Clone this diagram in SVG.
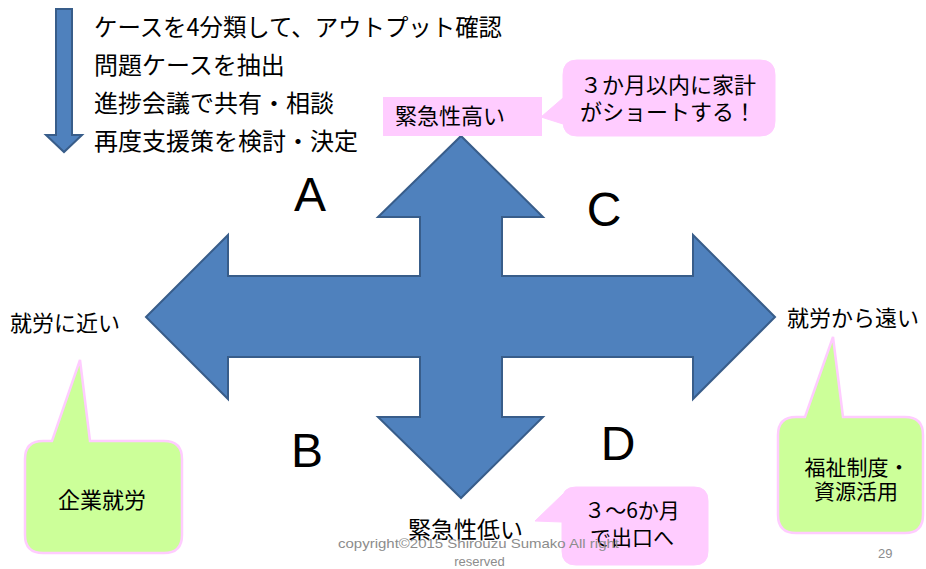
<svg xmlns="http://www.w3.org/2000/svg" width="926" height="569" viewBox="0 0 926 569">
<style>
.jp{font-family:"Noto Sans CJK JP","Noto Sans",sans-serif;fill:#000;}
.big{font-size:24px;}
.mid{font-size:22px;}
.sm{font-size:21px;}
.abc{font-family:"Liberation Sans",Arial,sans-serif;font-size:48px;fill:#000;text-anchor:middle;}
.arrow{fill:#4F81BD;stroke:#385D8A;stroke-width:2;stroke-linejoin:miter;}
.pink{fill:#FFCCFF;}
.pinkc{fill:#FFCCFF;stroke:#FFCCFF;stroke-width:1;}
.green{fill:#CCFF99;stroke:#FFCCFF;stroke-width:2.5;}
.foot{font-family:"Liberation Sans",Arial,sans-serif;font-size:13px;fill:#8C8C8C;}
.c{text-anchor:middle;}
</style>
<rect width="926" height="569" fill="#fff"/>

<g id="connectors">
  <path id="flow-arrow" class="arrow" d="M56,9 L72,9 L72,135 L82,135 L64,152 L46,135 L56,135 Z"/>
</g>

<g id="steps">
  <text class="jp big" x="94" y="35.5" textLength="408" lengthAdjust="spacingAndGlyphs">ケースを4分類して、アウトプット確認</text>
  <text class="jp big" x="94" y="73.8">問題ケースを抽出</text>
  <text class="jp big" x="94" y="112">進捗会議で共有・相談</text>
  <text class="jp big" x="94" y="150.3">再度支援策を検討・決定</text>
</g>

<g id="cross">
  <path class="arrow" d="M146,317 L228,235 L228,276 L420,276 L420,217 L378,217 L461,136 L543,217 L502,217 L502,276 L693,276 L693,235 L775,317 L693,399 L693,357 L502,357 L502,417 L543,417 L461,498 L378,417 L420,417 L420,357 L228,357 L228,399 Z"/>
</g>

<g id="quadrant-A"><text class="abc" x="310" y="211">A</text></g>
<g id="quadrant-B"><text class="abc" x="307" y="467">B</text></g>
<g id="quadrant-C"><text class="abc" x="604" y="226">C</text></g>
<g id="quadrant-D"><text class="abc" x="618" y="460">D</text></g>

<g id="high-urgency">
  <rect class="pink" x="383" y="97" width="159" height="39"/>
  <text class="jp mid" x="395" y="124">緊急性高い</text>
</g>

<g id="callout-short">
  <path class="pinkc" d="M577,60 L760,60 Q775,60 775,75 L775,121 Q775,136 760,136 L577,136 Q563,136 563,121 L563,124 L541,117 L563,98 L563,75 Q563,60 577,60 Z"/>
  <text class="jp mid c" x="668" y="93">３か月以内に家計</text>
  <text class="jp mid c" x="668" y="120">がショートする！</text>
</g>

<g id="near-work">
  <text class="jp mid" x="10" y="331">就労に近い</text>
</g>

<g id="far-work">
  <text class="jp mid" x="787" y="326">就労から遠い</text>
</g>

<g id="callout-employment">
  <path class="green" d="M43,441 L52,441 L80,360 L90,441 L164,441 Q182,441 182,459 L182,535 Q182,553 164,553 L43,553 Q25,553 25,535 L25,459 Q25,441 43,441 Z"/>
  <text class="jp mid c" x="102" y="508">企業就労</text>
</g>

<g id="callout-welfare">
  <path class="green" d="M796,417 L805,417 L833,337 L843,417 L905,417 Q923,417 923,435 L923,515 Q923,533 905,533 L796,533 Q778,533 778,515 L778,435 Q778,417 796,417 Z"/>
  <text class="jp sm c" x="857" y="475">福祉制度・</text>
  <text class="jp sm c" x="856" y="499">資源活用</text>
</g>

<g id="low-urgency">
  <text class="jp mid c" x="465.5" y="538" style="font-size:23px">緊急性低い</text>
</g>

<g id="callout-exit">
  <path class="pinkc" d="M576,487 L694,487 Q708,487 708,501 L708,551 Q708,565 694,565 L576,565 Q562,565 562,551 L562,522 L535,521 L563,494 L562,501 Q562,487 576,487 Z"/>
  <text class="jp sm c" x="632" y="518">３～6か月</text>
  <text class="jp sm c" x="632" y="545">で出口へ</text>
</g>

<g id="footer">
  <text class="foot" x="338" y="548" textLength="281" lengthAdjust="spacingAndGlyphs">copyright©2015  Shirouzu Sumako All right</text>
  <text class="foot c" x="479.5" y="566">reserved</text>
  <text class="foot" x="878" y="558">29</text>
</g>
</svg>
